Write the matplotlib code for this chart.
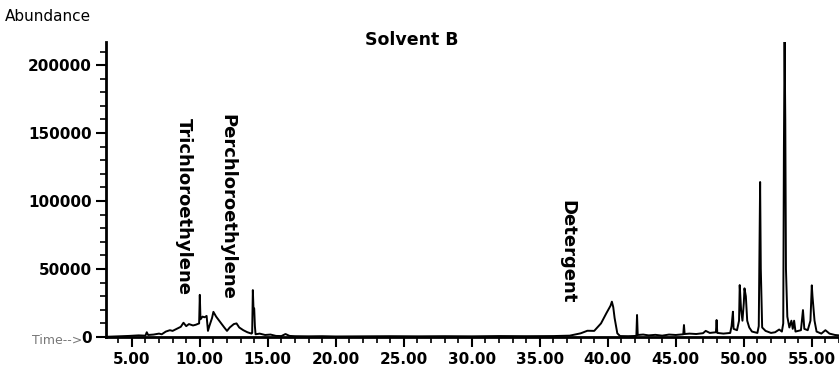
import matplotlib.pyplot as plt
from matplotlib.ticker import MultipleLocator, FormatStrFormatter

# retention time (min) and abundance
time = [3.2, 4.0, 4.8, 5.5, 6.0, 6.1, 6.2, 6.6, 7.0, 7.2, 7.5, 7.8, 8.0, 8.3, 8.6,
        8.8, 9.0, 9.2, 9.5, 9.7, 9.95, 10.0, 10.05, 10.2, 10.35, 10.5, 10.6, 10.7,
        10.9, 11.0, 11.2, 11.5, 11.8, 12.0, 12.2, 12.5, 12.7, 12.9, 13.2, 13.5,
        13.8, 13.85, 13.9, 13.95, 14.0, 14.05, 14.1, 14.4, 14.8, 15.2, 15.6, 16.0,
        16.3, 16.6, 17.0, 18.0, 19.0, 20.0, 22.0, 24.0, 26.0, 28.0, 30.0, 32.0,
        34.0, 36.0, 37.2, 38.0, 38.5, 39.0, 39.5, 39.9, 40.2, 40.3, 40.4, 40.5,
        40.7, 40.9, 41.5, 42.1, 42.15, 42.2, 42.6, 43.0, 43.5, 44.0, 44.5, 45.0,
        45.55, 45.6, 45.65, 46.0, 46.5, 47.0, 47.2, 47.5, 47.95, 48.0, 48.05, 48.5,
        49.0, 49.1, 49.2, 49.25, 49.5, 49.65, 49.7, 49.8, 49.9, 50.0, 50.05, 50.15,
        50.25, 50.4, 50.6, 51.0, 51.1, 51.15, 51.2, 51.25, 51.35, 51.6, 52.0, 52.3,
        52.6, 52.8, 52.9, 52.95, 53.0, 53.05, 53.1, 53.2, 53.35, 53.5, 53.6, 53.7,
        53.8, 54.2, 54.35, 54.45, 54.7, 54.9, 55.0, 55.05, 55.2, 55.35, 55.7, 56.0,
        56.3, 56.7, 57.0]
abundance = [200, 500, 800, 1200, 1000, 3500, 1500, 1800, 2500, 2000, 4000, 5000,
             4500, 6000, 7500, 10500, 8000, 9500, 8500, 9000, 10000, 31000, 13000,
             15000, 14500, 15500, 4500, 8000, 14000, 18500, 15000, 11000, 7000, 4500,
             7000, 9500, 10000, 7000, 5000, 3500, 2500, 3000, 34500, 20000, 21000,
             8000, 2000, 2500, 1500, 1800, 800, 700, 2200, 800, 600, 500, 600, 400,
             500, 600, 500, 600, 500, 700, 600, 700, 1000, 2700, 4600, 4500, 10000,
             17600, 23000, 26000, 22000, 14000, 2700, 700, 600, 800, 16200, 1500,
             1800, 1200, 1600, 1000, 1800, 1500, 2000, 8800, 2200, 2500, 2200, 2800,
             4500, 3000, 3500, 12500, 3000, 2500, 3000, 8000, 18600, 6000, 5000,
             12000, 38200, 20000, 12000, 25000, 35800, 30000, 12000, 7000, 4000, 3000,
             8000, 60000, 114000, 50000, 7000, 4500, 3000, 3500, 5500, 4000, 10000,
             140000, 218000, 160000, 50000, 15000, 7000, 12000, 6000, 12000, 4000,
             5000, 19800, 6000, 5000, 12000, 38000, 30000, 12000, 4000, 2500, 5000,
             2500, 1500, 1200]

labels = ['Trichloroethylene', 'Perchloroethylene', 'Detergent']
label_pos = [(8.8, 161000), (12.0, 164000), (37.0, 100500)]

font = ['Liberation Sans Narrow', 'DejaVu Sans']

fig = plt.figure(figsize=(8.39, 3.69), dpi=100)
ax = fig.add_axes([0.1263, 0.0867, 0.8737, 0.7995])

ax.plot(time, abundance, color='black', linewidth=1.4)
ax.set_xlim(3.1, 57.0)
ax.set_ylim(0, 217000)

for side in ['top', 'right']:
    ax.spines[side].set_visible(False)
ax.spines['left'].set_linewidth(2)
ax.spines['bottom'].set_linewidth(2)

ax.xaxis.set_major_locator(MultipleLocator(5))
ax.xaxis.set_minor_locator(MultipleLocator(1))
ax.xaxis.set_major_formatter(FormatStrFormatter('%.2f'))
ax.yaxis.set_major_locator(MultipleLocator(50000))
ax.yaxis.set_minor_locator(MultipleLocator(10000))
ax.tick_params(axis='both', which='major', direction='out', length=7, width=1.5)
ax.tick_params(axis='both', which='minor', direction='out', length=4, width=1.2)
ax.tick_params(axis='x', which='major', pad=4)
ax.tick_params(axis='y', which='major', pad=3)

for lab in ax.get_xticklabels() + ax.get_yticklabels():
    lab.set_family(font)
    lab.set_fontweight('bold')
    lab.set_fontsize(11)

for text, (x, y) in zip(labels, label_pos):
    ax.text(x, y, text, rotation=270, ha='center', va='top', family=font,
            fontweight='bold', fontsize=13)

fig.text(0.491, 0.892, 'Solvent B', ha='center', va='center', family=font,
         fontweight='bold', fontsize=12.5)
fig.text(0.006, 0.955, 'Abundance', ha='left', va='center', fontsize=11)
fig.text(0.038, 0.076, 'Time-->', ha='left', va='center', fontsize=9, color='#777777')

fig.savefig('out.png', dpi=100)
